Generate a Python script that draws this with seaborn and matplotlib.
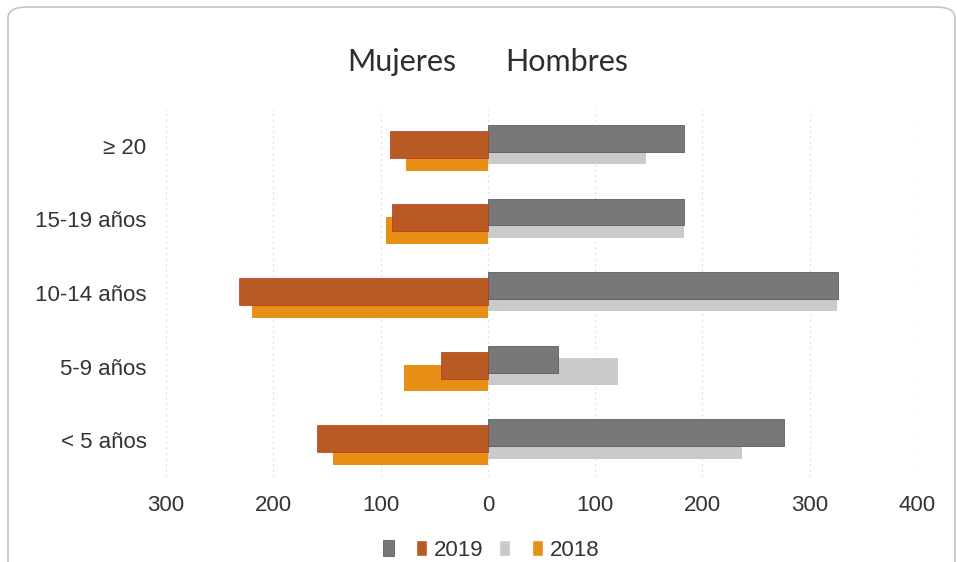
import matplotlib
matplotlib.use("Agg")
import matplotlib.pyplot as plt
from matplotlib.patches import Patch, FancyBboxPatch
import seaborn as sns
import pandas as pd
import numpy as np

# age groups, top to bottom
groups = ["≥ 20", "15-19 años", "10-14 años", "5-9 años", "< 5 años"]

# values
mujeres_2019 = [91, 89, 232, 44, 159]
mujeres_2018 = [76, 95, 220, 78, 144]
hombres_2019 = [183, 183, 326, 65, 276]
hombres_2018 = [147, 183, 325, 121, 237]

x_ticks = [-300, -200, -100, 0, 100, 200, 300, 400]
x_tick_labels = ["300", "200", "100", "0", "100", "200", "300", "400"]

sns.set_theme(style="white")
plt.rcParams["font.family"] = ["Liberation Sans", "DejaVu Sans"]

fig = plt.figure(figsize=(9.57, 5.62), dpi=100)
ax = fig.add_axes([166 / 957, (562 - 477) / 562, (917 - 166) / 957, (477 - 109) / 562])

bar_h = 0.365
pos = np.arange(len(groups))

# (values, sign, offset, fill, edge, zorder)
series = [
    (hombres_2018, 1, 0.068, "#c9cacc", "none", 2),
    (hombres_2019, 1, -0.10, "#76787a", "#4a4a4a", 3),
    (mujeres_2018, -1, 0.155, "#e88f16", "none", 2),
    (mujeres_2019, -1, -0.02, "#b85a24", "#c0301c", 3),
]
for vals, sign, off, fill, edge, z in series:
    df = pd.DataFrame({"v": sign * np.array(vals), "y": pos + off})
    sns.barplot(data=df, x="v", y="y", orient="h", native_scale=True,
                width=bar_h, color=fill, edgecolor=edge, linewidth=0.5,
                saturation=1, errorbar=None, ax=ax, zorder=z)

ax.set_xlim(-300, 400)
ax.set_ylim(len(groups) - 0.5, -0.5)
ax.set_xticks(x_ticks)
ax.set_xticklabels(x_tick_labels)
ax.set_yticks(pos)
ax.set_yticklabels(groups)
ax.set_xlabel("")
ax.set_ylabel("")
ax.tick_params(axis="x", length=0, pad=13, labelsize=16, labelcolor="#333333")
ax.tick_params(axis="y", length=0, pad=14, labelsize=16, labelcolor="#333333")
ax.grid(axis="x", color="#e0e0e0", linestyle=(0, (2, 3)), linewidth=0.8, zorder=0)
ax.set_axisbelow(True)
for s in ax.spines.values():
    s.set_visible(False)

fig.text(402 / 957, 1 - 62 / 562, "Mujeres", ha="center", va="center",
         fontsize=22, family=["Lato", "DejaVu Sans"], color="#2e2e2e")
fig.text(567 / 957, 1 - 62 / 562, "Hombres", ha="center", va="center",
         fontsize=22, family=["Lato", "DejaVu Sans"], color="#2e2e2e")

handles = [Patch(facecolor="#76787a", edgecolor="#4a4a4a", linewidth=0.5),
           Patch(facecolor="#b85a24"),
           Patch(facecolor="#c9cacc"),
           Patch(facecolor="#e88f16")]
fig.legend(handles, ["", "2019", "", "2018"], loc="center", ncol=4,
           bbox_to_anchor=(491 / 957, 1 - 550 / 562), frameon=False,
           fontsize=16, handlelength=0.5, handleheight=0.7,
           handletextpad=0.3, columnspacing=0.7, labelcolor="#333333",
           borderpad=0.2)

frame = FancyBboxPatch((8 / 957, -0.05), (955 - 8) / 957, 1 - 7 / 562 + 0.05,
                       boxstyle="round,pad=0,rounding_size=0.02",
                       transform=fig.transFigure, fill=False,
                       edgecolor="#c4c4c4", linewidth=1.2)
fig.patches.append(frame)

fig.savefig("out.png", dpi=100)
